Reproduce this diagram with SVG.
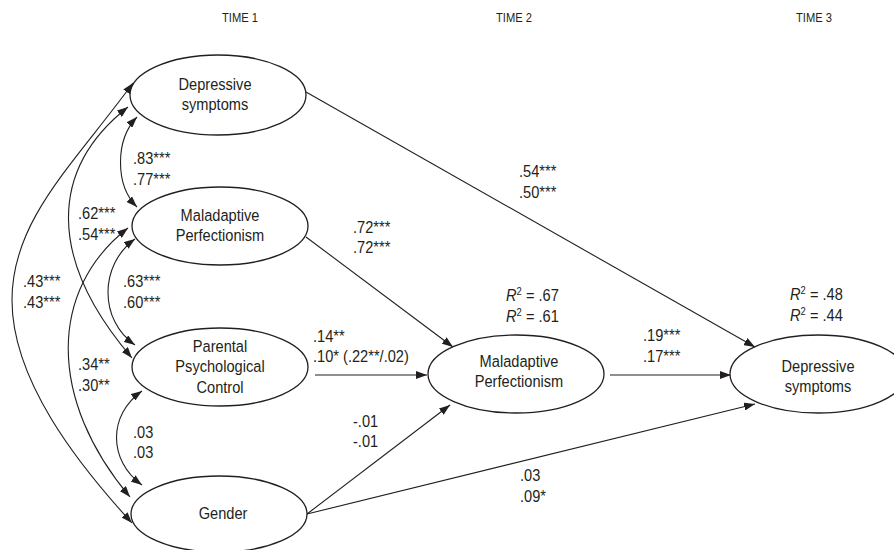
<svg xmlns="http://www.w3.org/2000/svg" width="894" height="550" viewBox="0 0 894 550">
<style>
text{font-family:"Liberation Sans",Arial,sans-serif;font-size:17px;fill:#231f20}
.c{text-anchor:middle}
.h{font-size:13px}
.sup{font-size:11px}
.i{font-style:italic}
ellipse{fill:#fff;stroke:#231f20;stroke-width:1.3}
.ln{fill:none;stroke:#231f20;stroke-width:1.1}
.a1{marker-end:url(#ah)}
.a2{marker-start:url(#ah);marker-end:url(#ah)}
</style>
<defs>
<marker id="ah" viewBox="0 0 11 8" refX="11" refY="4" markerWidth="11" markerHeight="8" markerUnits="userSpaceOnUse" orient="auto-start-reverse">
<path d="M0,0 L11,4 L0,8 z" fill="#231f20"/>
</marker>
</defs>
<rect width="894" height="550" fill="#fff"/>
<g id="headers">
<text class="c h" transform="translate(240,0) scale(.86,1)" y="22">TIME 1</text>
<text class="c h" transform="translate(514,0) scale(.86,1)" y="22">TIME 2</text>
<text class="c h" transform="translate(814,0) scale(.86,1)" y="22">TIME 3</text>
</g>
<g id="connectors">
<path class="ln a1" d="M306,92 L755,347"/>
<path class="ln a1" d="M306,237 L453,347"/>
<path class="ln a1" d="M315,375 L427,375"/>
<path class="ln a1" d="M610,375 L731,375"/>
<path class="ln a1" d="M307,514 L450,405"/>
<path class="ln a1" d="M307,514 L755,404"/>
<path class="ln a2" d="M137,117 C115,140 115,185 137,207"/>
<path class="ln a2" d="M135,239 C99,265 99,320 135,345"/>
<path class="ln a2" d="M142,391 C108,415 108,460 142,485"/>
<path class="ln a2" d="M128,107 C48,170 48,260 132,358"/>
<path class="ln a2" d="M128,228 C48,290 48,400 130,497"/>
<path class="ln a2" d="M133,83 C73,165 12,220 12,300 C12,380 77,463 132,523"/>
</g>
<g id="n-dep1">
<ellipse cx="218" cy="95" rx="88" ry="40"/>
<text class="c" transform="translate(215,0) scale(.86,1)" y="90">Depressive</text>
<text class="c" transform="translate(215,0) scale(.86,1)" y="110">symptoms</text>
</g>
<g id="n-mal1">
<ellipse cx="220" cy="226" rx="88" ry="39"/>
<text class="c" transform="translate(220,0) scale(.86,1)" y="221">Maladaptive</text>
<text class="c" transform="translate(220,0) scale(.86,1)" y="241">Perfectionism</text>
</g>
<g id="n-ppc">
<ellipse cx="220" cy="367" rx="88" ry="39"/>
<text class="c" transform="translate(220,0) scale(.86,1)" y="352">Parental</text>
<text class="c" transform="translate(220,0) scale(.86,1)" y="372">Psychological</text>
<text class="c" transform="translate(220,0) scale(.86,1)" y="393">Control</text>
</g>
<g id="n-gender">
<ellipse cx="219" cy="514" rx="88" ry="38"/>
<text class="c" transform="translate(223,0) scale(.86,1)" y="519">Gender</text>
</g>
<g id="n-mal2">
<ellipse cx="516" cy="374" rx="88" ry="39"/>
<text class="c" transform="translate(519,0) scale(.86,1)" y="367">Maladaptive</text>
<text class="c" transform="translate(519,0) scale(.86,1)" y="387">Perfectionism</text>
</g>
<g id="n-dep3">
<ellipse cx="818" cy="374" rx="88" ry="39"/>
<text class="c" transform="translate(818,0) scale(.86,1)" y="372">Depressive</text>
<text class="c" transform="translate(818,0) scale(.86,1)" y="392">symptoms</text>
</g>
<g id="labels">
<text transform="translate(133,0) scale(.86,1)" y="164">.83***</text>
<text transform="translate(133,0) scale(.86,1)" y="185">.77***</text>
<text transform="translate(78,0) scale(.86,1)" y="219">.62***</text>
<text transform="translate(78,0) scale(.86,1)" y="240">.54***</text>
<text transform="translate(23,0) scale(.86,1)" y="287">.43***</text>
<text transform="translate(23,0) scale(.86,1)" y="308">.43***</text>
<text transform="translate(123,0) scale(.86,1)" y="287">.63***</text>
<text transform="translate(123,0) scale(.86,1)" y="308">.60***</text>
<text transform="translate(78,0) scale(.86,1)" y="370">.34**</text>
<text transform="translate(78,0) scale(.86,1)" y="391">.30**</text>
<text transform="translate(133,0) scale(.86,1)" y="438">.03</text>
<text transform="translate(133,0) scale(.86,1)" y="458">.03</text>
<text transform="translate(519,0) scale(.86,1)" y="177">.54***</text>
<text transform="translate(519,0) scale(.86,1)" y="198">.50***</text>
<text transform="translate(353,0) scale(.86,1)" y="233">.72***</text>
<text transform="translate(353,0) scale(.86,1)" y="253">.72***</text>
<text transform="translate(506,0) scale(.86,1)" y="301"><tspan class="i">R</tspan><tspan class="sup" dy="-6">2</tspan><tspan dy="6"> = .67</tspan></text>
<text transform="translate(506,0) scale(.86,1)" y="322"><tspan class="i">R</tspan><tspan class="sup" dy="-6">2</tspan><tspan dy="6"> = .61</tspan></text>
<text transform="translate(313,0) scale(.86,1)" y="342">.14**</text>
<text transform="translate(313,0) scale(.86,1)" y="362">.10* (.22**/.02)</text>
<text transform="translate(353,0) scale(.86,1)" y="427">-.01</text>
<text transform="translate(353,0) scale(.86,1)" y="447">-.01</text>
<text transform="translate(520,0) scale(.86,1)" y="481">.03</text>
<text transform="translate(520,0) scale(.86,1)" y="502">.09*</text>
<text transform="translate(643,0) scale(.86,1)" y="341">.19***</text>
<text transform="translate(643,0) scale(.86,1)" y="362">.17***</text>
<text transform="translate(790,0) scale(.86,1)" y="300"><tspan class="i">R</tspan><tspan class="sup" dy="-6">2</tspan><tspan dy="6"> = .48</tspan></text>
<text transform="translate(790,0) scale(.86,1)" y="321"><tspan class="i">R</tspan><tspan class="sup" dy="-6">2</tspan><tspan dy="6"> = .44</tspan></text>
</g>
</svg>
